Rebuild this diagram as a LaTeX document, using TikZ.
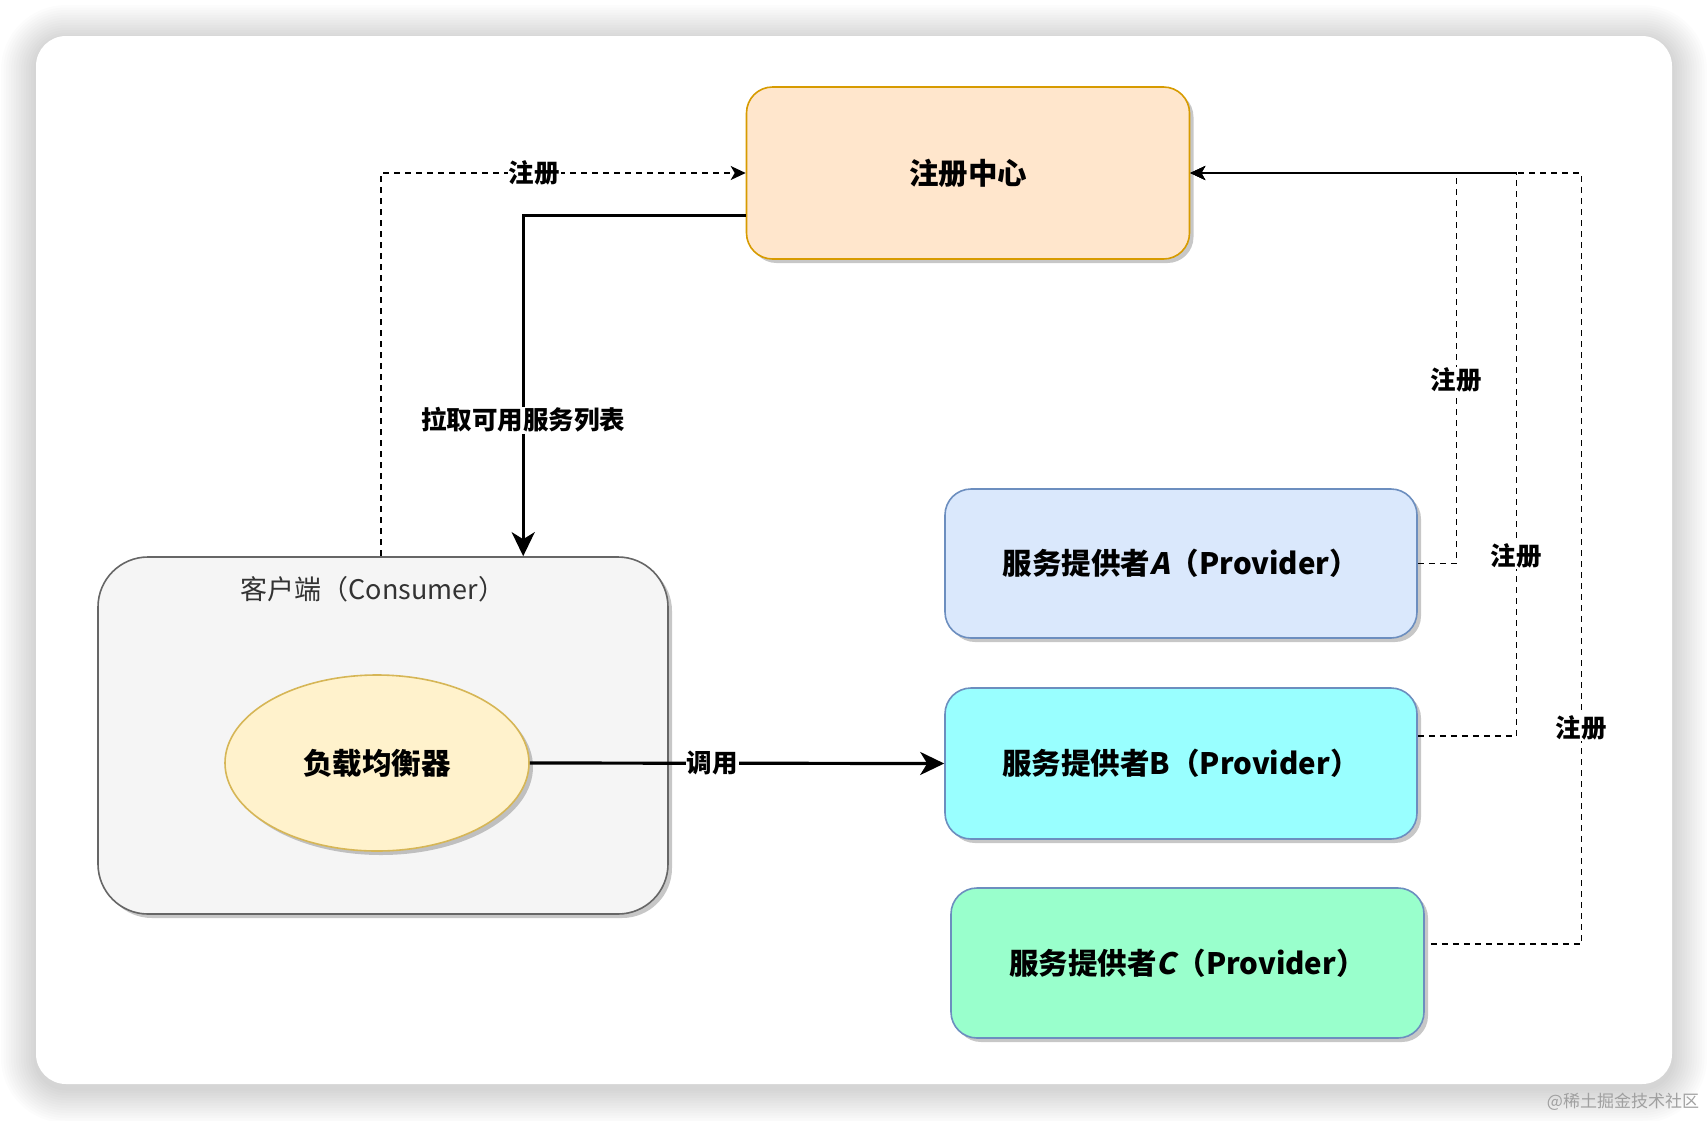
\documentclass[tikz,border=0pt]{standalone}
\usepackage{fontspec}
\setmainfont{Noto Sans CJK SC}
\newfontfamily\slfont{Noto Sans CJK SC}[FakeSlant=0.2,BoldFeatures={FakeSlant=0.2}]
\usepackage{tikz}
\usetikzlibrary{arrows.meta,shadows,shapes.geometric}
\definecolor{regfill}{HTML}{FFE6CC}
\definecolor{regdraw}{HTML}{D79B00}
\definecolor{pAfill}{HTML}{DAE8FC}
\definecolor{pBfill}{HTML}{99FFFF}
\definecolor{pCfill}{HTML}{99FFCC}
\definecolor{provdraw}{HTML}{6C8EBF}
\definecolor{confill}{HTML}{F5F5F5}
\definecolor{condraw}{HTML}{666666}
\definecolor{context}{HTML}{333333}
\definecolor{lbfill}{HTML}{FFF2CC}
\definecolor{lbdraw}{HTML}{D6B656}
\definecolor{wmark}{HTML}{A0A0A0}

\begin{document}
\begin{tikzpicture}[x=1pt,y=-1pt,
  shd/.style={drop shadow={shadow xshift=4pt,shadow yshift=-4pt,fill=black,opacity=0.22}},
  box/.style n args={2}{draw=#2,fill=#1,line width=1.6pt,rounded corners=26pt,inner sep=0pt,shd,
    font=\bfseries\fontsize{29.5}{34}\selectfont},
  lbl/.style={fill=white,inner sep=1pt,font=\bfseries\fontsize{25.5}{28}\selectfont},
  thick line/.style={line width=3.2pt,-{Stealth[length=24pt,width=23pt,inset=7pt]}},
  dsh/.style={line width=1.5pt,dash pattern=on 6pt off 5pt,-{Stealth[length=15pt,width=14pt,inset=4pt]}}]
\useasboundingbox (0,0) rectangle (1708,1120);
\fill[white] (0,0) rectangle (1708,1120);
\foreach \i [evaluate=\i as \r using 30+2.5*\i] in {1,...,14} {
  \fill[black,opacity=0.012,rounded corners=\r pt] (36-2.5*\i,40-2.5*\i) rectangle (1672+2.5*\i,1088+2.5*\i);
}
\fill[white,rounded corners=30pt] (36,36) rectangle (1672,1084);

\node[box={regfill}{regdraw},minimum width=443pt,minimum height=172pt] (reg) at (968,173) {注册中心};
\node[draw=condraw,fill=confill,line width=1.6pt,rounded corners=50pt,shd,
  minimum width=570pt,minimum height=357pt] (con) at (383,735.5) {};
\node[text=context,font=\fontsize{27}{30}\selectfont] (contitle) at (373,589) {客户端（Consumer）};
\node[ellipse,draw=lbdraw,fill=lbfill,line width=1.6pt,shd,minimum width=304pt,minimum height=176pt,
  font=\bfseries\fontsize{29.5}{34}\selectfont] (lb) at (377,763) {负载均衡器};
\node[box={pAfill}{provdraw},minimum width=472pt,minimum height=149pt] (pA) at (1181,563.5)
  {服务提供者{\slfont A}（Provider）};
\node[box={pBfill}{provdraw},minimum width=472pt,minimum height=151pt] (pB) at (1181,763.5)
  {服务提供者B（Provider）};
\node[box={pCfill}{provdraw},minimum width=473pt,minimum height=150pt] (pC) at (1187.5,963)
  {服务提供者{\slfont C}（Provider）};

\draw[dsh] ([xshift=284pt]con.north west) |- (reg.west) node[lbl,pos=0.71] {注册};
\draw[thick line] ([yshift=44pt]reg.south west) -| ([xshift=426pt]con.north west)
  node[lbl,pos=0.8] {拉取可用服务列表};
\draw[thick line] (lb.east) -- (pB.west) node[lbl,pos=0.44] {调用};

\draw[dsh] (pA.east) -| ([xshift=266pt]reg.east) node[lbl,pos=0.735] {注册} -- (reg.east);
\draw[dsh] ([yshift=27.5pt]pB.east) -| ([xshift=326pt]reg.east) node[lbl,pos=0.66] {注册} -- (reg.east);
\draw[dsh] ([xshift=6pt,yshift=19pt]pC.east) -| ([xshift=391pt]reg.east) node[lbl,pos=0.64] {注册} -- (reg.east);

\node[text=wmark,font=\fontsize{17}{20}\selectfont] (wm) at (1623,1102) {@稀土掘金技术社区};
\end{tikzpicture}
\end{document}
